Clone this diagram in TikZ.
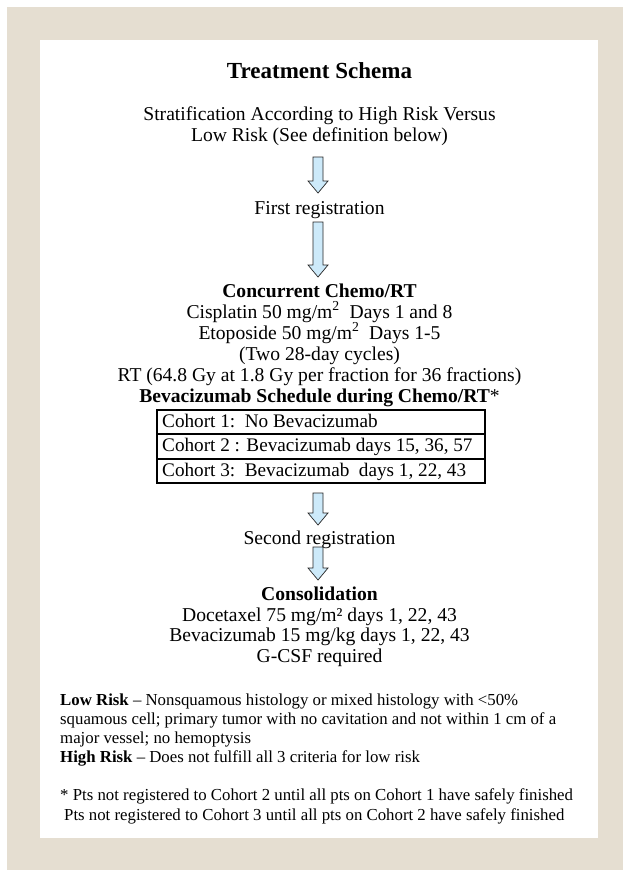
\documentclass[tikz,border=0pt]{standalone}
\usepackage{fontspec}
\setmainfont{Liberation Serif}
\definecolor{beige}{RGB}{229,222,209}
\definecolor{arrowblue}{RGB}{205,234,250}
\newcommand\blockarrow[3]{%
  \draw[arrowsty] (#1-5,#2) -- (#1+5,#2) -- (#1+5,#3-12) -- (#1+10,#3-12) -- (#1,#3) -- (#1-10,#3-12) -- (#1-5,#3-12) -- cycle;}
\begin{document}
\begin{tikzpicture}[x=1pt,y=-1pt,
  txt/.style={anchor=base,inner sep=0pt,font=\fontsize{19.6}{21}\selectfont},
  bold/.style={txt,font=\fontsize{19.6}{21}\selectfont\bfseries},
  small/.style={anchor=base west,inner sep=0pt,font=\fontsize{16.8}{19}\selectfont},
  arrowsty/.style={draw=black!85,line width=0.7pt,fill=arrowblue,line join=miter},
  cell/.style={draw=black,line width=2pt,minimum width=328pt,minimum height=24.3pt,inner sep=0pt,anchor=north west},
  celltxt/.style={anchor=base west,inner sep=0pt,font=\fontsize{19.2}{21}\selectfont}]
\useasboundingbox (0,0) rectangle (623,870);
\fill[beige] (7,7) rectangle (623,870);
\fill[white] (40,40) rectangle (598,838);

\node[txt,font=\fontsize{23}{27}\bfseries] (title) at (319.5,78) {Treatment Schema};
\node[txt] (strat1) at (319.5,120) {Stratification According to High Risk Versus};
\node[txt] (strat2) at (319.5,141) {Low Risk (See definition below)};
\blockarrow{318}{157}{193}
\node[txt] (first) at (319.5,214.5) {First registration};
\blockarrow{318}{222}{277}
\node[bold] (conc) at (319.5,297) {Concurrent Chemo/RT};
\node[txt] (cis) at (319.5,318) {Cisplatin 50 mg/m\textsuperscript{2}\ \ Days 1 and 8};
\node[txt] (eto) at (319.5,339) {Etoposide 50 mg/m\textsuperscript{2}\ \ Days 1-5};
\node[txt] (two) at (319.5,360) {(Two 28-day cycles)};
\node[txt] (rt) at (319.5,381) {RT (64.8 Gy at 1.8 Gy per fraction for 36 fractions)};
\node[txt] (bevs) at (319.5,402) {\textbf{Bevacizumab Schedule during Chemo/RT}*};

\node[cell] (c1) at (156,409) {};
\node[cell] (c2) at (156,433.3) {};
\node[cell] (c3) at (156,457.6) {};
\node[celltxt] (t1) at (162,427) {Cohort 1:\ \ No Bevacizumab};
\node[celltxt] (t2) at (162,451.5) {Cohort 2 : Bevacizumab days 15, 36, 57};
\node[celltxt] (t3) at (162,476) {Cohort 3:\ \ Bevacizumab\ \ days 1, 22, 43};

\blockarrow{318}{493}{525}
\node[txt] (second) at (319.5,544) {Second registration};
\blockarrow{318}{547}{580}
\node[bold] (cons) at (319.5,600) {Consolidation};
\node[txt] (doc) at (319.5,621) {Docetaxel 75 mg/m² days 1, 22, 43};
\node[txt] (bev15) at (319.5,641) {Bevacizumab 15 mg/kg days 1, 22, 43};
\node[txt] (gcsf) at (319.5,662) {G-CSF required};

\node[small] (l1) at (60,705) {\textbf{Low Risk} – Nonsquamous histology or mixed histology with <50\%};
\node[small] (l2) at (60,724) {squamous cell; primary tumor with no cavitation and not within 1 cm of a};
\node[small] (l3) at (60,743) {major vessel; no hemoptysis};
\node[small] (l4) at (60,762) {\textbf{High Risk} – Does not fulfill all 3 criteria for low risk};
\node[small] (f1) at (60,800) {* Pts not registered to Cohort 2 until all pts on Cohort 1 have safely finished};
\node[small] (f2) at (64,820) {Pts not registered to Cohort 3 until all pts on Cohort 2 have safely finished};
\end{tikzpicture}
\end{document}
